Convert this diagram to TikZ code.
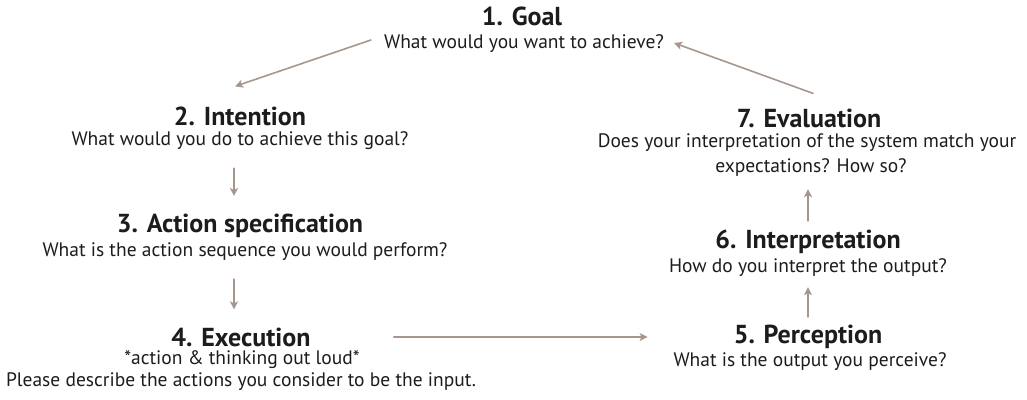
\documentclass[tikz,border=0pt]{standalone}
\usepackage{fontspec}
\setmainfont{PT Sans}
\usetikzlibrary{calc,arrows.meta}
\definecolor{arrowbrown}{RGB}{168,150,140}
\definecolor{inkblack}{RGB}{28,28,28}
\tikzset{
  ttl/.style={inner sep=0pt,text=inkblack,font=\fontsize{26}{30}\selectfont\bfseries},
  txt/.style={inner sep=0pt,text=inkblack,font=\fontsize{19.5}{23}\selectfont},
  arr/.style={->,draw=arrowbrown,line width=1.6pt}
}
\begin{document}
\begin{tikzpicture}[x=1pt,y=-1pt,>={Stealth[length=8pt,width=8pt,inset=2pt]},line join=round,line cap=round]
\useasboundingbox (0,0) rectangle (1027,399);
\node[ttl] (goal) at (522,16) {1. Goal};
\node[txt] (goaltxt) at (524,44) {What would you want to achieve?};
\node[ttl] (int) at (240,116) {2. Intention};
\node[txt] (inttxt) at (240,141) {What would you do to achieve this goal?};
\node[ttl] (act) at (240,226) {3. Action specification};
\node[txt] (acttxt) at (245,252) {What is the action sequence you would perform?};
\node[ttl] (exe) at (241,337) {4. Execution};
\node[txt] (exetxt) at (242,360) {*action \& thinking out loud*};
\node[txt] (exeinp) at (241,382) {Please describe the actions you consider to be the input.};
\node[ttl] (per) at (808,337) {5. Perception};
\node[txt] (pertxt) at (810,362) {What is the output you perceive?};
\node[ttl] (ipr) at (808,242) {6. Interpretation};
\node[txt] (iprtxt) at (808,268) {How do you interpret the output?};
\node[ttl] (eva) at (809,118) {7. Evaluation};
\node[txt] (evatxt) at (807,143) {Does your interpretation of the system match your};
\node[txt] (evaexp) at (811,168) {expectations? How so?};
\draw[arr] ($(goaltxt.west)+(-13,-4)$) -- ($(int.north)+(-5,-20)$);
\draw[arr] ($(inttxt.south)+(-6,18)$) -- ($(act.north)+(-6,-18)$);
\draw[arr] ($(acttxt.south)+(-11,18)$) -- ($(exe.north)+(-7,-18)$);
\draw[arr] ($(exe.east)+(83,0)$) -- ($(per.west)+(-86,0)$);
\draw[arr] ($(per.north)+(0,-8)$) -- ($(iprtxt.south)+(0,10)$);
\draw[arr] ($(ipr.north)+(0,-9)$) -- ($(evaexp.south)+(-3,12)$);
\draw[arr] ($(eva.north)+(4,-15)$) -- ($(goaltxt.east)+(10,-1)$);
\end{tikzpicture}
\end{document}
